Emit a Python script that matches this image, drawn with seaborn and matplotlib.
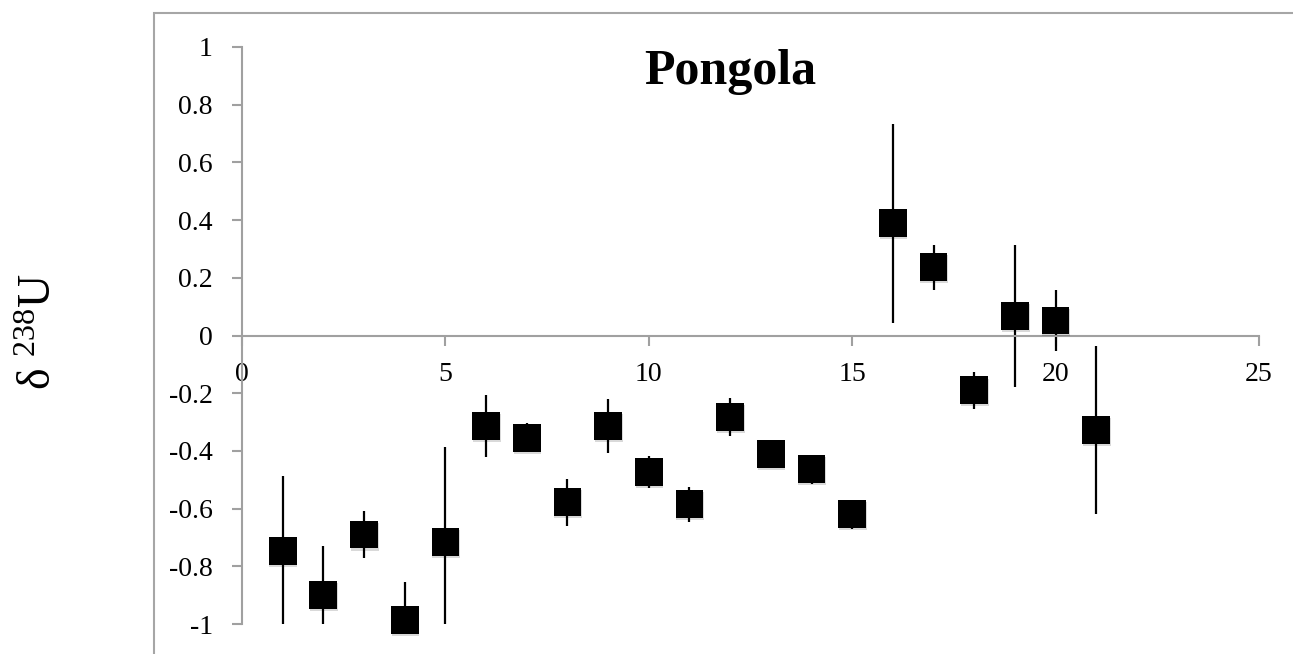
import numpy as np
import pandas as pd
import seaborn as sns
import matplotlib.pyplot as plt
import matplotlib.patheffects as pe
from matplotlib.patches import Rectangle

sample = [1, 2, 3, 4, 5, 6, 7, 8, 9, 10, 11, 12, 13, 14, 15, 16, 17, 18, 19, 20, 21]
d238u = [-0.748, -0.90, -0.69, -0.985, -0.716, -0.314, -0.355, -0.578, -0.314, -0.473, -0.585,
         -0.283, -0.411, -0.463, -0.619, 0.389, 0.237, -0.19, 0.067, 0.052, -0.328]
err = [0.26, 0.17, 0.082, 0.13, 0.33, 0.107, 0.05, 0.082, 0.094, 0.057, 0.061,
       0.067, 0.05, 0.05, 0.05, 0.345, 0.078, 0.065, 0.247, 0.104, 0.29]
xticks = [0, 5, 10, 15, 20, 25]
yticks = [-1, -0.8, -0.6, -0.4, -0.2, 0, 0.2, 0.4, 0.6, 0.8, 1]

sns.set_style('white')
plt.rcParams['font.family'] = ['Liberation Serif', 'DejaVu Serif']
plt.rcParams['mathtext.fontset'] = 'custom'
plt.rcParams['mathtext.rm'] = 'Liberation Serif'
plt.rcParams['mathtext.it'] = 'Liberation Serif:italic'
plt.rcParams['text.color'] = 'black'

df = pd.DataFrame({'sample': sample, 'd238u': d238u, 'err': err})

fig = plt.figure(figsize=(12.93, 6.54), dpi=100)
ax = fig.add_axes([242/1293, 1 - 624/654, (1259 - 242)/1293, (624 - 47)/654])

# outer chart frame
fig.patches.append(Rectangle((154/1293, -0.2), 1.0, 1.2 - 13/654, transform=fig.transFigure,
                             fill=False, edgecolor='#a6a6a6', linewidth=1.5))

ax.errorbar(df['sample'], df['d238u'], yerr=df['err'], fmt='none', ecolor='black',
            elinewidth=1.6, capsize=0, zorder=2)
sns.scatterplot(data=df, x='sample', y='d238u', marker='s', s=400, color='black',
                linewidth=0, ax=ax, zorder=3, clip_on=False,
                path_effects=[pe.SimplePatchShadow(offset=(0.5, -1.5), alpha=0.15), pe.Normal()])

ax.set_xlim(0, 25)
ax.set_ylim(-1, 1)
ax.set_xticks(xticks)
ax.set_yticks(yticks)
ax.set_yticklabels(['{:g}'.format(v) for v in yticks])

for side in ['top', 'right']:
    ax.spines[side].set_visible(False)
ax.spines['bottom'].set_position(('data', 0))
for side in ['left', 'bottom']:
    ax.spines[side].set_color('#a0a0a0')
    ax.spines[side].set_linewidth(1.5)
ax.tick_params(axis='both', direction='out', length=7, width=1.5, color='#a0a0a0',
               labelsize=20, labelcolor='black', bottom=True, left=True)
ax.tick_params(axis='x', pad=12)
ax.tick_params(axis='y', pad=14)

ax.set_xlabel('')
ax.set_ylabel('')
fig.text(730/1293, 1 - 72/654, 'Pongola', fontsize=36, fontweight='bold',
         ha='center', va='center')
fig.text(40/1293, 1 - 332/654, r'$\mathrm{\delta\ ^{238}U}$', fontsize=33, rotation=90,
         ha='center', va='center')

fig.savefig('out.png', dpi=100)
